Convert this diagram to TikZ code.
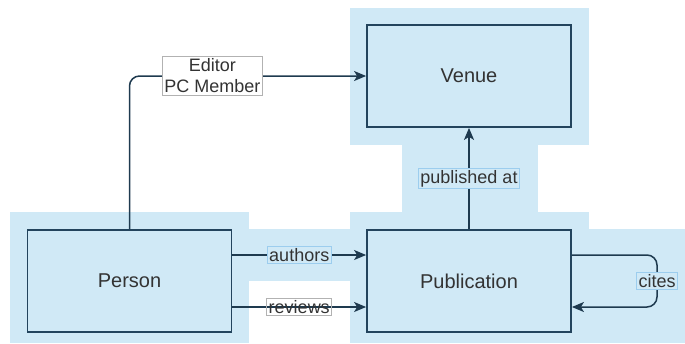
\documentclass[tikz,border=0pt]{standalone}
\usepackage{fontspec}
\setmainfont{Liberation Sans}
\usetikzlibrary{arrows.meta}
\definecolor{hlblue}{HTML}{D0E9F6}
\definecolor{darkline}{HTML}{23445D}
\definecolor{lblline}{HTML}{9CCDEE}
\definecolor{txtgray}{HTML}{333333}

\begin{document}
\begin{tikzpicture}[x=0.5pt,y=-0.5pt]
\tikzstyle{entity}=[rectangle,draw=darkline,fill=hlblue,line width=0.9pt,minimum width=102pt,minimum height=51pt,text=txtgray,font=\fontsize{10}{12}\selectfont]
\tikzstyle{rel}=[draw=darkline!85!black,line width=0.75pt,-{Stealth[length=6pt,width=5pt,inset=1.5pt]},rounded corners=5pt]
\tikzstyle{lbl}=[rectangle,sharp corners,fill=hlblue,draw=lblline,line width=0.4pt,inner sep=1pt,text=txtgray,font=\fontsize{9}{10.5}\selectfont]
\tikzstyle{plainlbl}=[lbl,fill=white,draw=black!30]
\useasboundingbox (0,0) rectangle (685,343);
\fill[hlblue] (10,212) rectangle (249,343);
\fill[hlblue] (249,229) rectangle (350,281);
\fill[hlblue] (350,212) rectangle (589,343);
\fill[hlblue] (589,229) rectangle (685,343);
\fill[hlblue] (402,145) rectangle (538,212);
\fill[hlblue] (350,8) rectangle (589,145);
\node [entity] (person) at (129.5,281) {Person};
\node [entity] (pub) at (469,281) {Publication};
\node [entity] (venue) at (469,76) {Venue};
\draw [rel] (person.north) |- node [plainlbl,pos=0.675,align=center] (editorlbl) {Editor\\PC Member} (venue.west);
\draw [rel] (pub.north) -- node [lbl] (pubatlbl) {published at} (venue.south);
\draw [rel] ([yshift=13pt]person.east) -- node [lbl] (authorslbl) {authors} ([yshift=13pt]pub.west);
\draw [rel] ([yshift=-13pt]person.east) -- node [plainlbl,fill=none] (reviewslbl) {reviews} ([yshift=-13pt]pub.west);
\coordinate (citesturn) at (657,281);
\draw [rel] ([yshift=13pt]pub.east) -| (citesturn) |- ([yshift=-13pt]pub.east);
\node [lbl] (citeslbl) at (citesturn) {cites};
\end{tikzpicture}
\end{document}
